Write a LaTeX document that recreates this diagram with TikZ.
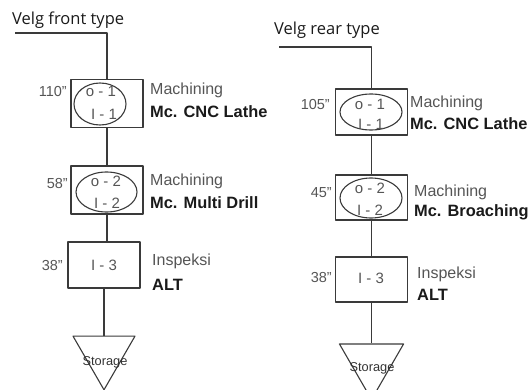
\documentclass[tikz,border=0pt]{standalone}
\usepackage{fontspec}
\setmainfont{Liberation Sans}
\newfontfamily\titlefont{Open Sans}
\usetikzlibrary{shapes.geometric}
\definecolor{lncol}{HTML}{3A3A3A}
\definecolor{graytxt}{HTML}{555555}
\definecolor{darktxt}{HTML}{1A1A1A}
\tikzset{
  flow/.style={draw=lncol, line width=1.1pt, line join=round},
  procbox/.style={flow, rectangle, minimum width=72pt, minimum height=48pt, inner sep=0pt},
  opell/.style={flow, ellipse, inner sep=0pt},
  code/.style={inner sep=0pt, anchor=base, font=\fontsize{15}{15}\selectfont, text=graytxt},
  timelbl/.style={inner sep=0pt, anchor=base east, font=\fontsize{14.5}{14.5}\selectfont, text=graytxt},
  actlbl/.style={inner sep=0pt, anchor=base west, font=\fontsize{16}{16}\selectfont, text=graytxt},
  maclbl/.style={inner sep=0pt, anchor=base west, font=\fontsize{16.4}{16.4}\selectfont\bfseries, text=darktxt},
  ttl/.style={inner sep=0pt, anchor=base west, font=\titlefont\fontsize{16.5}{16.5}\selectfont, text=darktxt},
  store/.style={flow, regular polygon, regular polygon sides=3, shape border rotate=180, inner sep=0pt},
  storetxt/.style={inner sep=0pt, font=\fontsize{12.8}{12.8}\selectfont, text=black!80}
}
\begin{document}
\begin{tikzpicture}[x=1pt,y=-1pt]
\useasboundingbox (0,0) rectangle (529,390);
% ---------- left column ----------
\node[ttl] (tL) at (12,25) {Velg front type};
\coordinate (sL) at (15,33);
\node[procbox] (bL1) at (107,103.5) {};
\node[opell, minimum width=52pt, minimum height=42pt] (eL1) at (100,104) {};
\node[code] (cL1a) at (101,97) {o - 1};
\node[code] (cL1b) at (104,120) {I - 1};
\node[timelbl] (tmL1) at (67,97) {110"};
\node[actlbl] (aL1) at (150,95) {Machining};
\node[maclbl] (mL1) at (150,118) {Mc. CNC Lathe};

\node[procbox] (bL2) at (107,190) {};
\node[opell, minimum width=61pt, minimum height=40pt] (eL2) at (106.5,192) {};
\node[code] (cL2a) at (106,186) {o - 2};
\node[code] (cL2b) at (107,208) {I - 2};
\node[timelbl] (tmL2) at (68,188) {58"};
\node[actlbl] (aL2) at (150,185) {Machining};
\node[maclbl] (mL2) at (150,208) {Mc. Multi Drill};

\node[procbox, minimum height=46pt] (bL3) at (104,265) {};
\node[code] (cL3) at (104,270) {I - 3};
\node[timelbl] (tmL3) at (63,270) {38"};
\node[actlbl] (aL3) at (152,265) {Inspeksi};
\node[maclbl] (mL3) at (152,290) {ALT};

\node[store, minimum size=71.6pt] (sL3) at (104,354) {};
\node[storetxt] (stL) at (105,362) {Storage};

\draw[flow] (sL) -| (bL1.north);
\draw[flow] (bL1.south) -- (bL2.north);
\draw[flow] (bL2.south) -- (bL2.south |- bL3.north);
\draw[flow] (bL3.south) -- (sL3.north);

% ---------- right column ----------
\node[ttl] (tR) at (274,35) {Velg rear type};
\coordinate (sR) at (279,47);
\node[procbox, minimum height=46pt] (bR1) at (371.5,112) {};
\node[opell, minimum width=62pt, minimum height=36pt] (eR1) at (371,112) {};
\node[code] (cR1a) at (370,110) {o - 1};
\node[code] (cR1b) at (371,130) {I - 1};
\node[timelbl] (tmR1) at (330,110) {105"};
\node[actlbl] (aR1) at (410,108) {Machining};
\node[maclbl] (mR1) at (410,130) {Mc. CNC Lathe};

\node[procbox, minimum height=45pt] (bR2) at (371.5,197.5) {};
\node[opell, minimum width=62pt, minimum height=40pt] (eR2) at (371,198) {};
\node[code] (cR2a) at (370,193) {o - 2};
\node[code] (cR2b) at (370,215) {I - 2};
\node[timelbl] (tmR2) at (332,197) {45"};
\node[actlbl] (aR2) at (414,196) {Machining};
\node[maclbl] (mR2) at (414,216) {Mc. Broaching};

\node[procbox, minimum height=45pt] (bR3) at (371.5,279.5) {};
\node[code] (cR3) at (371,283) {I - 3};
\node[timelbl] (tmR3) at (332,282) {38"};
\node[actlbl] (aR3) at (417,278) {Inspeksi};
\node[maclbl] (mR3) at (417,300) {ALT};

\node[store, minimum size=74pt] (sR3) at (371.5,362.5) {};
\node[storetxt] (stR) at (372,368) {Storage};

\draw[flow] (sR) -| (bR1.north);
\draw[flow] (bR1.south) -- (bR2.north);
\draw[flow] (bR2.south) -- (bR3.north);
\draw[flow] (bR3.south) -- (sR3.north);
\end{tikzpicture}
\end{document}
